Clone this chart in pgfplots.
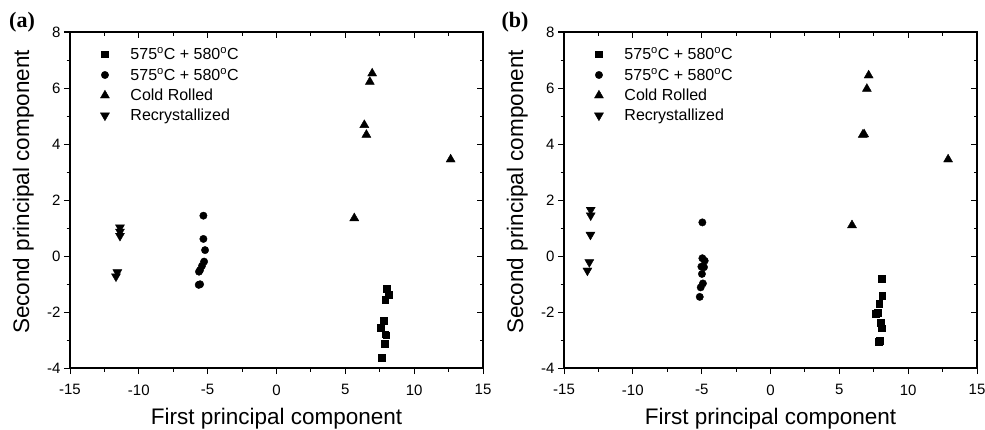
\documentclass[border=0pt]{standalone}
\usepackage{fontspec}
\setmainfont{Liberation Sans}
\newfontfamily\serifb{Liberation Serif}
\usepackage{pgfplots}
\pgfplotsset{compat=1.18}

\pgfplotsset{
  pcabase/.style={
    scale only axis, width=413pt, height=336pt,
    xmin=-15, xmax=15, ymin=-4, ymax=8,
    xtick={-15,-10,-5,0,5,10,15}, ytick={-4,-2,0,2,4,6,8},
    minor x tick num=1, minor y tick num=1,
    axis line style={line width=1.2pt},
    major tick length=6pt, minor tick length=3.5pt,
    every tick/.style={line width=1pt, black},
  },
  pcamain/.style={
    pcabase,
    tick align=outside, xtick pos=bottom, ytick pos=left,
    xticklabels={-15,-10,-5,0,5,10,15},
    yticklabels={-4,-2,0,2,4,6,8},
    tick label style={font=\fontsize{15}{18}\selectfont},
    xticklabel style={yshift=-7pt},
    xlabel={First principal component},
    ylabel={Second principal component},
    xlabel style={font=\fontsize{22.5}{26}\selectfont, at={(axis description cs:0.5,-0.168)}, anchor=base},
    ylabel style={font=\fontsize{22.5}{26}\selectfont, at={(axis description cs:-0.099,0.524)}, anchor=base, rotate=0},
    legend style={at={(axis description cs:0.066,0.967)}, anchor=north west, draw=none, fill=none,
      font=\fontsize{16}{19}\selectfont, row sep=3pt,
      /tikz/every odd column/.append style={column sep=19pt}},
    legend cell align=left,
  },
  pcaover/.style={
    pcabase,
    tick align=inside, xtick pos=top, ytick pos=right,
    xticklabels={}, yticklabels={},
  },
  sq/.style={only marks, mark=square*, mark size=3.4pt, black},
  ci/.style={only marks, mark=*, mark size=3.7pt, black},
  tu/.style={only marks, mark=triangle*, mark size=5.2pt, black},
  td/.style={only marks, mark=triangle*, mark size=5.2pt, black, mark options={rotate=180}},
}

\begin{document}
\begin{tikzpicture}
\useasboundingbox (0,0) rectangle (985pt,429pt);

% ---------------- panel (a) ----------------
\begin{axis}[pcamain, at={(70pt,61pt)}, anchor=south west]
\addplot[sq] coordinates {(8.02,-1.18) (8.13,-1.39) (7.89,-1.57) (7.77,-2.31) (7.58,-2.55) (7.89,-2.79) (7.97,-2.83) (7.84,-3.14) (7.67,-3.62)};
\addlegendentry{575\textsuperscript{o}C + 580\textsuperscript{o}C}
\addplot[ci] coordinates {(-5.31,1.44) (-5.31,0.61) (-5.19,0.21) (-5.26,-0.20) (-5.41,-0.35) (-5.55,-0.50) (-5.63,-0.56) (-5.55,-1.01) (-5.65,-1.03)};
\addlegendentry{575\textsuperscript{o}C + 580\textsuperscript{o}C}
\addplot[tu] coordinates {(6.95,6.52) (6.78,6.22) (6.38,4.68) (6.53,4.33) (12.65,3.45) (5.65,1.35)};
\addlegendentry{Cold Rolled}
\addplot[td] coordinates {(-11.37,1.02) (-11.37,0.87) (-11.37,0.72) (-11.56,-0.58) (-11.66,-0.73)};
\addlegendentry{Recrystallized}
\end{axis}
\begin{axis}[pcaover, at={(70pt,61pt)}, anchor=south west]
\end{axis}
\node[font=\serifb\bfseries\fontsize{22}{26}\selectfont] at (22pt,407pt) {(a)};

% ---------------- panel (b) ----------------
\begin{axis}[pcamain, at={(564pt,61pt)}, anchor=south west]
\addplot[sq] coordinates {(8.07,-0.82) (8.12,-1.42) (7.90,-1.69) (7.78,-2.03) (7.66,-2.07) (7.99,-2.37) (8.07,-2.58) (7.95,-3.03) (7.85,-3.05)};
\addlegendentry{575\textsuperscript{o}C + 580\textsuperscript{o}C}
\addplot[ci] coordinates {(-4.95,1.20) (-4.95,-0.08) (-4.78,-0.17) (-5.02,-0.38) (-4.83,-0.40) (-4.98,-0.64) (-4.91,-0.98) (-5.07,-1.12) (-5.14,-1.46)};
\addlegendentry{575\textsuperscript{o}C + 580\textsuperscript{o}C}
\addplot[tu] coordinates {(7.13,6.45) (7.0,5.97) (6.70,4.33) (6.80,4.35) (12.9,3.45) (5.92,1.10)};
\addlegendentry{Cold Rolled}
\addplot[td] coordinates {(-13.06,1.65) (-13.06,1.45) (-13.08,0.76) (-13.16,-0.22) (-13.30,-0.52)};
\addlegendentry{Recrystallized}
\end{axis}
\begin{axis}[pcaover, at={(564pt,61pt)}, anchor=south west]
\end{axis}
\node[font=\serifb\bfseries\fontsize{22}{26}\selectfont] at (515pt,407pt) {(b)};
\end{tikzpicture}
\end{document}
